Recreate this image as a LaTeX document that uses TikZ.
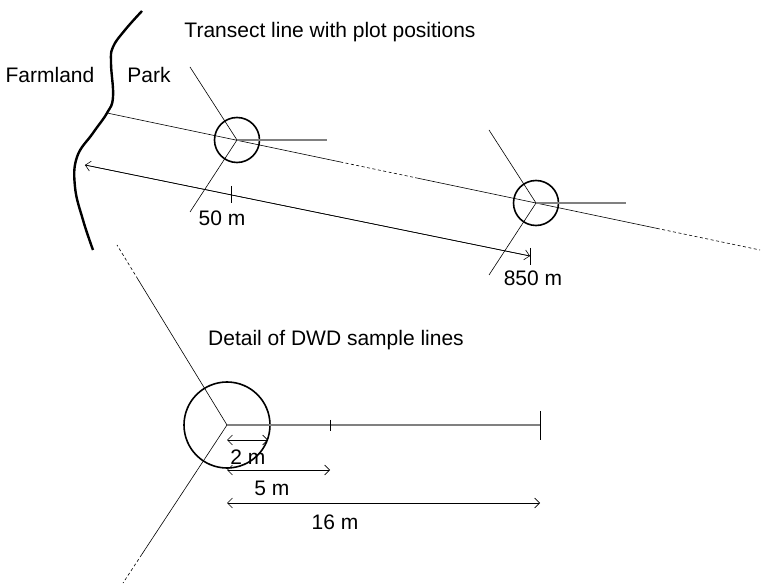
\documentclass[tikz,border=0pt]{standalone}
\usepackage{fontspec}
\setmainfont{Liberation Sans}
\usetikzlibrary{calc,arrows.meta}
\begin{document}
\begin{tikzpicture}[x=1pt, y=-1pt, font=\fontsize{21}{24}\selectfont,
  thinline/.style={line width=0.6pt},
  dotline/.style={thinline, dash pattern=on 3pt off 2.5pt},
  plot/.style={circle, draw, line width=1.6pt, inner sep=0pt, minimum size=45pt},
  plotline/.style={draw=gray, line width=1.2pt},
  dim/.style={thinline, >={Straight Barb[length=5pt,width=10pt]}}]
  \useasboundingbox (0,0) rectangle (761,585);
  % border farmland / park
  \draw[line width=2.4pt] plot[smooth, tension=0.7] coordinates {(142,11) (125,30) (113,47) (111,63)
    (113,97) (107,113) (93,133) (77,157) (75,187) (83,220) (93,250)};
  \node (farmland) at (50,75) {Farmland};
  \node (park) at (149,75) {Park};
  \node (title) at (330,32) {Transect line with plot positions};

  % transect
  \coordinate (tstart) at (107,113);
  \coordinate (tend) at (760,250);
  \draw[thinline] (tstart) -- ($(tstart)!0.357!(tend)$);
  \draw[dotline] ($(tstart)!0.357!(tend)$) -- ($(tstart)!0.472!(tend)$);
  \draw[thinline] ($(tstart)!0.472!(tend)$) -- ($(tstart)!0.842!(tend)$);
  \draw[dotline] ($(tstart)!0.842!(tend)$) -- (tend);

  % plots
  \foreach \p/\x/\y in {plotA/237/140, plotB/536/203} {
    \node[plot] (\p) at (\x,\y) {};
    \draw[thinline] (\p.center) -- ++(-47,-73);
    \draw[thinline] (\p.center) -- ++(-47,72);
    \draw[plotline] (\p.center) -- ++(90,0);
  }

  % distance along transect
  \coordinate (dstart) at (85,165);
  \coordinate (dend) at (530,256);
  \draw[dim, ->] (dend) -- (dstart);
  \draw[dim, ->] (dstart) -- (dend);
  \draw[thinline] (231,186) -- (231,203);
  \draw[thinline] (530,248) -- (530,265);
  \node (d50) at (222,218) {50 m};
  \node (d850) at (533,278) {850 m};

  % detail
  \node (detail) at (336,340) {Detail of DWD sample lines};
  \node[plot, minimum size=86pt] (big) at (227,425) {};
  \coordinate (up) at (117,245);
  \coordinate (down) at (123,583);
  \draw[thinline] (big.center) -- ($(big.center)!0.81!(up)$);
  \draw[dotline] ($(big.center)!0.81!(up)$) -- (up);
  \draw[thinline] (big.center) -- ($(big.center)!0.82!(down)$);
  \draw[dotline] ($(big.center)!0.82!(down)$) -- (down);
  \coordinate (lend) at (540,425);
  \draw[plotline] (big.center) -- (lend);
  \draw[thinline] (330,420) -- (330,431);
  \draw[line width=1pt] (540,411) -- (540,440);

  % sample line lengths
  \draw[dim, <->] (227,440) -- (268,440);
  \node (m2) at (248,457) {2 m};
  \draw[dim, <->] (227,470) -- (330,470);
  \node (m5) at (272,488) {5 m};
  \draw[dim, <->] (227,503) -- (540,503);
  \node (m16) at (335,522) {16 m};
\end{tikzpicture}
\end{document}
